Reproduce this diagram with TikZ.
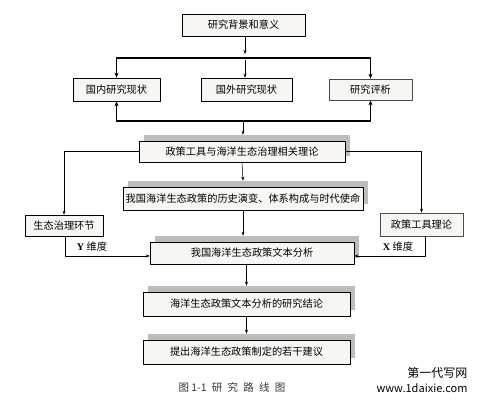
\documentclass[tikz,border=0pt]{standalone}
\usepackage{fontspec}
\setmainfont{Noto Sans CJK SC}
\newfontfamily\latinserif{Liberation Serif}
\usetikzlibrary{arrows.meta,shadows}

\begin{document}
\begin{tikzpicture}[x=1pt,y=-1pt,line cap=round,line join=round,
  font=\fontsize{10.2}{12}\selectfont,
  box/.style={draw=black,fill=boxfill,inner sep=0pt,line width=0.6pt},
  shadowbox/.style={box,general shadow={fill=shadowgray,shadow xshift=5pt,shadow yshift=6pt}},
  arr/.style={-{Stealth[length=4pt,width=3pt]},line width=0.5pt},
  bararr/.style={-{Stealth[length=5pt,width=4pt]},line width=1.3pt}]
\definecolor{boxfill}{HTML}{F7F6F3}
\definecolor{shadowgray}{HTML}{BDBDBD}
\definecolor{captiongray}{HTML}{333333}
\useasboundingbox (0,0) rectangle (481,404);

% top part
\node[box,minimum width=123,minimum height=22] (bg) at (243.5,25) {研究背景和意义};
\node[box,minimum width=87,minimum height=23] (gn) at (116.5,89.5) {国内研究现状};
\node[box,minimum width=91,minimum height=23] (gw) at (246.5,89.5) {国外研究现状};
\node[box,draw=black!70,minimum width=83,minimum height=21] (pj) at (370.5,89.5) {研究评析};
\coordinate (tbar) at (245,58);
\coordinate (mbar) at (243,121);

% theory and history
\node[shadowbox,minimum width=206,minimum height=21] (lilun) at (242,151.5) {政策工具与海洋生态治理相关理论};
\node[shadowbox,minimum width=240,minimum height=23] (lishi) at (243,198.5) {我国海洋生态政策的历史演变、体系构成与时代使命};
\node[box,minimum width=78,minimum height=21] (stzl) at (64,225.5) {生态治理环节};
\node[box,draw=black!70,minimum width=83,minimum height=23] (zcgj) at (421.5,224.5) {政策工具理论};

% analysis chain
\node[shadowbox,minimum width=204,minimum height=22] (wenben) at (252,253) {我国海洋生态政策文本分析};
\node[shadowbox,minimum width=207,minimum height=24] (jielun) at (246.5,304) {海洋生态政策文本分析的研究结论};
\node[shadowbox,minimum width=207,minimum height=24] (jianyi) at (246.5,352) {提出海洋生态政策制定的若干建议};

% connectors
\draw[arr] (bg.south -| tbar) -- ([yshift=4pt]tbar);
\draw[bararr] (tbar) -| (gn.north);
\draw[bararr] (tbar) -| (pj.north);
\draw[arr] ([yshift=-2pt]tbar) -- (gw.north -| tbar);
\draw[bararr] (mbar) -| (gn.south);
\draw[bararr] (mbar) -| (pj.south);
\draw[arr] (mbar) -- ([yshift=6pt]lilun.north -| mbar);
\draw[arr] (lilun.west) -| (stzl.north);
\draw[arr] (lilun.east) -| (zcgj.north);
\draw[arr] (lilun.south) -- ([yshift=6pt]lishi.north);
\draw[arr] (lishi.south) -- ([yshift=6pt]lishi.south |- wenben.north);
\draw[arr] ([xshift=1pt]stzl.south) |- ([yshift=-3pt]wenben.west);
\draw[arr] ([xshift=3.5pt]zcgj.south) |- ([yshift=-3pt]wenben.east);
\draw[arr] (wenben.south -| jielun) -- ([yshift=6pt]jielun.north);
\draw[arr] (jielun.south) -- ([yshift=6pt]jianyi.north);

% dimension labels
\node (ylab) at (92,247) {{\latinserif\bfseries Y} 维度};
\node (xlab) at (398,247) {{\latinserif\bfseries X} 维度};

% caption and mark
\node[text=captiongray,font=\fontsize{10.5}{12}\selectfont] (cap) at (232,387) {图\ 1-1\enspace 研\enspace 究\enspace 路\enspace 线\enspace 图};
\node[anchor=east,font=\fontsize{12}{13}\selectfont] (mark1) at (471,373) {第一代写网};
\node[anchor=east,font=\fontsize{11}{12}\selectfont] (mark2) at (471,388) {www.1daixie.com};
\end{tikzpicture}
\end{document}
